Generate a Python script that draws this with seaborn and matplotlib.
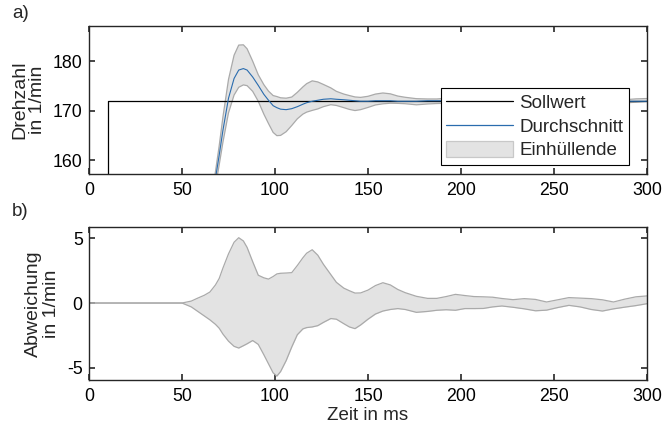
import numpy as np
import pandas as pd
import matplotlib
matplotlib.use("Agg")
import matplotlib.pyplot as plt
from matplotlib.patches import Patch
from matplotlib.lines import Line2D
import seaborn as sns

# --- data -------------------------------------------------------------
# time grid in ms
t = [0, 10, 50, 55, 58, 62, 65, 68, 70, 72, 75, 78, 80.5, 83, 85, 88, 91, 94,
     96.5, 99, 101, 103, 106, 109, 112, 115, 117, 120, 123, 126, 130, 133,
     137, 140, 143, 146, 150, 154, 158, 162, 166, 170, 176, 182, 187, 192,
     197, 202, 207, 212, 217, 222, 228, 234, 240, 246, 252, 258, 264, 270,
     276, 282, 288, 294, 300]

# mean speed (1/min)
mean_speed = [0, 0, 108, 122, 130, 141, 149, 156.3, 161, 166, 172.5, 176.5,
              178.2, 178.5, 178.2, 176.8, 175.1, 173.3, 172.1, 171.0, 170.6,
              170.3, 170.2, 170.4, 170.8, 171.3, 171.6, 171.9, 172.1, 172.3,
              172.4, 172.3, 172.2, 172.1, 172.0, 171.9, 171.9, 172.0, 172.0,
              172.0, 171.9, 171.9, 171.9, 172.0, 172.0, 172.0, 172.0, 171.9,
              171.9, 171.9, 172.0, 172.0, 172.0, 171.9, 171.9, 171.9, 171.9,
              172.0, 172.0, 171.9, 171.9, 171.9, 171.9, 171.9, 171.9]

# upper / lower deviation of the envelope from the mean (1/min)
dev_upper = [0, 0, 0, 0.15, 0.35, 0.6, 0.85, 1.4, 1.9, 2.7, 3.8, 4.7, 5.05,
             4.8, 4.3, 3.2, 2.15, 1.95, 1.85, 2.05, 2.25, 2.3, 2.32, 2.35,
             2.9, 3.5, 3.85, 4.12, 3.7, 3.0, 2.2, 1.6, 1.15, 0.95, 0.77, 0.78,
             1.0, 1.35, 1.57, 1.4, 1.05, 0.8, 0.52, 0.36, 0.36, 0.5, 0.67,
             0.58, 0.5, 0.48, 0.45, 0.35, 0.26, 0.34, 0.28, 0.08, 0.25, 0.42,
             0.38, 0.34, 0.25, 0.08, 0.3, 0.48, 0.55]
dev_lower = [0, 0, 0, -0.3, -0.6, -1.0, -1.3, -1.65, -1.95, -2.4, -2.95, -3.35,
             -3.48, -3.3, -3.15, -2.9, -3.2, -4.0, -4.7, -5.4, -5.65, -5.3,
             -4.45, -3.4, -2.45, -2.0, -1.9, -1.85, -1.75, -1.5, -1.2, -1.25,
             -1.6, -1.85, -1.98, -1.7, -1.25, -0.85, -0.62, -0.5, -0.43, -0.5,
             -0.72, -0.65, -0.56, -0.52, -0.56, -0.43, -0.43, -0.42, -0.3,
             -0.23, -0.33, -0.45, -0.6, -0.55, -0.35, -0.18, -0.3, -0.5,
             -0.62, -0.45, -0.32, -0.2, -0.05]

# set point (step at 10 ms)
setpoint_t = [0, 10, 300]
setpoint_v = [0, 172, 172]

# --- styling ----------------------------------------------------------
sns.set_theme(style="white")
plt.rcParams["font.family"] = ["Liberation Sans", "DejaVu Sans"]
plt.rcParams["axes.unicode_minus"] = False

FS = 13.5        # labels, legend, panel letters
FS_TICK = 12.8   # tick labels
AX_COL = "#262626"
FILL_COL = "#e3e3e3"
EDGE_COL = "#aaaaaa"
MEAN_COL = "#2a6cae"

df = pd.DataFrame({"t": t, "mean": mean_speed,
                   "upper": dev_upper, "lower": dev_lower})
df["env_hi"] = df["mean"] + df["upper"]
df["env_lo"] = df["mean"] + df["lower"]

fig = plt.figure(figsize=(6.65, 4.32), dpi=100)
ax1 = fig.add_axes([0.1338, 0.5972, 0.973 - 0.1338, 0.9398 - 0.5972])
ax2 = fig.add_axes([0.1338, 0.1204, 0.973 - 0.1338, 0.4752 - 0.1204])

# a) speed
ax1.fill_between(df["t"], df["env_lo"], df["env_hi"], color=FILL_COL, lw=0)
sns.lineplot(x=df["t"], y=df["env_hi"], ax=ax1, color=EDGE_COL, lw=0.9,
             estimator=None, sort=False)
sns.lineplot(x=df["t"], y=df["env_lo"], ax=ax1, color=EDGE_COL, lw=0.9,
             estimator=None, sort=False)
sns.lineplot(x=setpoint_t, y=setpoint_v, ax=ax1, color="black", lw=0.9,
             drawstyle="steps-post", estimator=None, sort=False)
sns.lineplot(x=df["t"], y=df["mean"], ax=ax1, color=MEAN_COL, lw=0.8,
             estimator=None, sort=False)
ax1.set_xlim(0, 300)
ax1.set_ylim(157.2, 187.1)
ax1.set_yticks([160, 170, 180])
ax1.set_ylabel("Drehzahl\nin 1/min", fontsize=FS + 0.5, labelpad=5,
               linespacing=1.05)
ax1.set_xlabel("")

handles = [Line2D([], [], color="black", lw=0.9),
           Line2D([], [], color=MEAN_COL, lw=0.9),
           Patch(facecolor=FILL_COL, edgecolor="#c8c8c8", lw=0.9)]
leg = ax1.legend(handles, ["Sollwert", "Durchschnitt", "Einhüllende"],
                 loc="lower right", bbox_to_anchor=(0.9677, 0.061),
                 fontsize=FS, frameon=True, fancybox=False, framealpha=1,
                 edgecolor="black", handlelength=3.55, handleheight=0.9,
                 handletextpad=0.35, labelspacing=0.28, borderpad=0.3,
                 borderaxespad=0)
leg.get_frame().set_linewidth(0.8)

# b) deviation
ax2.fill_between(df["t"], df["lower"], df["upper"], color=FILL_COL, lw=0)
sns.lineplot(x=df["t"], y=df["upper"], ax=ax2, color=EDGE_COL, lw=0.9,
             estimator=None, sort=False)
sns.lineplot(x=df["t"], y=df["lower"], ax=ax2, color=EDGE_COL, lw=0.9,
             estimator=None, sort=False)
ax2.set_xlim(0, 300)
ax2.set_ylim(-5.95, 5.9)
ax2.set_yticks([-5, 0, 5])
ax2.set_ylabel("Abweichung\nin 1/min", fontsize=FS + 0.5, labelpad=5,
               linespacing=1.05)
ax2.set_xlabel("Zeit in ms", fontsize=FS, labelpad=1)

for ax in (ax1, ax2):
    ax.set_xticks([0, 50, 100, 150, 200, 250, 300])
    ax.tick_params(direction="in", length=4.5, width=1.2, colors=AX_COL,
                   labelsize=FS_TICK, top=True, right=True, bottom=True,
                   left=True, labelcolor="black")
    ax.tick_params(axis="x", pad=6)
    ax.tick_params(axis="y", pad=4.5)
    for s in ax.spines.values():
        s.set_color(AX_COL)
        s.set_linewidth(1.0)
    ax.yaxis.label.set_ha("center")

fig.text(12 / 665, 1 - 14 / 432, "a)", fontsize=FS, ha="left", va="center")
fig.text(12 / 665, 1 - 212 / 432, "b)", fontsize=FS, ha="left", va="center")

fig.savefig("out.png", dpi=100)
